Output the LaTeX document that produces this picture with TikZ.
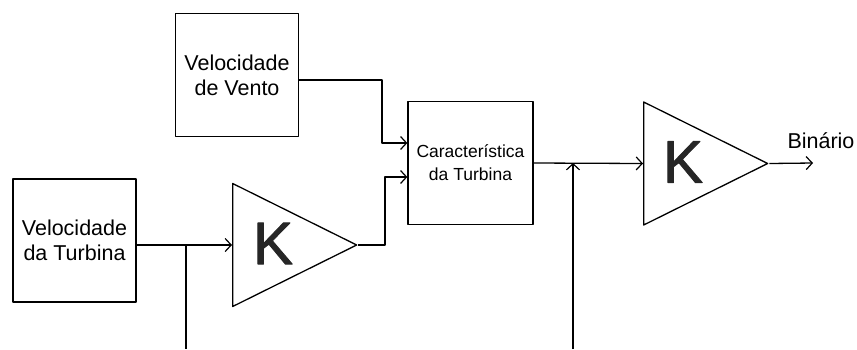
\documentclass[tikz,border=0pt]{standalone}
\usepackage{fontspec}
\setmainfont{Liberation Sans}
\newfontfamily\fonteK{Liberation Sans}[FakeBold=1.5]
\usetikzlibrary{shapes.geometric,arrows.meta}
\tikzset{
  bloco/.style={draw, line width=1.3pt, minimum width=123pt, minimum height=123pt,
    inner sep=0pt, align=center, font=\fontsize{21.5}{25}\selectfont},
  ganho/.style={draw, line width=1.3pt, isosceles triangle, isosceles triangle stretches,
    minimum width=123pt, minimum height=124pt, inner sep=0pt, anchor=west},
  letrak/.style={font=\fonteK\fontsize{60}{60}\selectfont, inner sep=0pt, text=black!85}
}
\begin{document}
\begin{tikzpicture}[x=1pt, y=-1pt, line width=1.3pt, line join=round,
    >={Straight Barb[length=6pt,width=13pt,line width=1.2pt]}]
	\useasboundingbox (0,0) rectangle (857,349);
	\path
	(382,80)coordinate(c1)
	(382,143)coordinate(c2)
	(385,177)coordinate(c4)
	(186,349)coordinate(b1)
	(573,349)coordinate(b2)
	(813,163)coordinate(saida)
	;
	\node[bloco] (vt) at (74.5,240.5) {Velocidade\\da Turbina};
	\node[bloco] (vv) at (237,75) {Velocidade\\de Vento};
	\node[bloco, minimum width=125pt, font=\fontsize{17.5}{23}\selectfont] (ct) at (470.5,163) {Caracter\'istica\\da Turbina};
	\node[ganho] (k1) at (232,245) {};
	\node[ganho] (k2) at (643,163.5) {};
	\node[letrak] (t1) at ([xshift=41pt,yshift=1.5pt]k1.west) {K};
	\node[letrak] (t2) at ([xshift=40pt,yshift=1.5pt]k2.west) {K};
	\draw [->](vt.east |- k1.west) -- (k1.west);
	\draw (b1 |- k1.west) -- (b1);
	\draw [->](k1.apex) -| (c4) -- (c4 -| ct.west);
	\draw [->](vv.east |- c1) -- (c1) -- (c2) -- (c2 -| ct.west);
	\draw [->](ct.east) -- (k2.west);
	\draw [->](b2) -- (b2 |- ct.east);
	\draw [->](k2.apex) -- (saida);
	\node[font=\fontsize{21.5}{25}\selectfont, anchor=base] (bin) at (821,148) {Bin\'ario};
\end{tikzpicture}
\end{document}
